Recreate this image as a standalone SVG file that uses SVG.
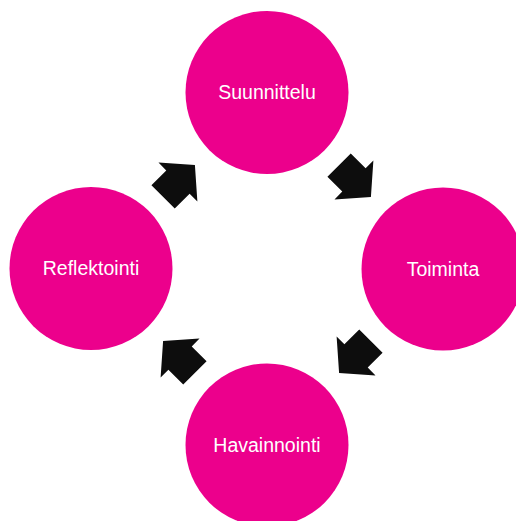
<svg xmlns="http://www.w3.org/2000/svg" width="516" height="521" viewBox="0 0 516 521">
<defs>
<style>
.node{fill:#EC008C;}
.lbl{fill:#FFFFFF;font-family:"Liberation Sans",Arial,sans-serif;font-size:19.5px;text-anchor:middle;}
.arr{fill:#0D0D0D;}
</style>
<path id="blk" d="M -22.5,-16.5 L -1.5,-16.5 L -1.5,-27.5 L 22.5,0 L -1.5,27.5 L -1.5,16.5 L -22.5,16.5 Z"/>
</defs>
<rect width="516" height="521" fill="#FFFFFF"/>
<g id="connectors">
<use href="#blk" class="arr" transform="translate(179,181) rotate(-45)"/>
<use href="#blk" class="arr" transform="translate(355,181) rotate(45)"/>
<use href="#blk" class="arr" transform="translate(355,357) rotate(135)"/>
<use href="#blk" class="arr" transform="translate(179,357) rotate(-135)"/>
</g>
<g id="suunnittelu">
<circle class="node" cx="267" cy="92.5" r="81.5"/>
<text class="lbl" x="267" y="99.3">Suunnittelu</text>
</g>
<g id="toiminta">
<circle class="node" cx="443" cy="269" r="81.5"/>
<text class="lbl" x="443" y="275.5">Toiminta</text>
</g>
<g id="havainnointi">
<circle class="node" cx="267" cy="445" r="81.5"/>
<text class="lbl" x="267" y="451.7">Havainnointi</text>
</g>
<g id="reflektointi">
<circle class="node" cx="91" cy="268.5" r="81.5"/>
<text class="lbl" x="91" y="275.2">Reflektointi</text>
</g>
</svg>
